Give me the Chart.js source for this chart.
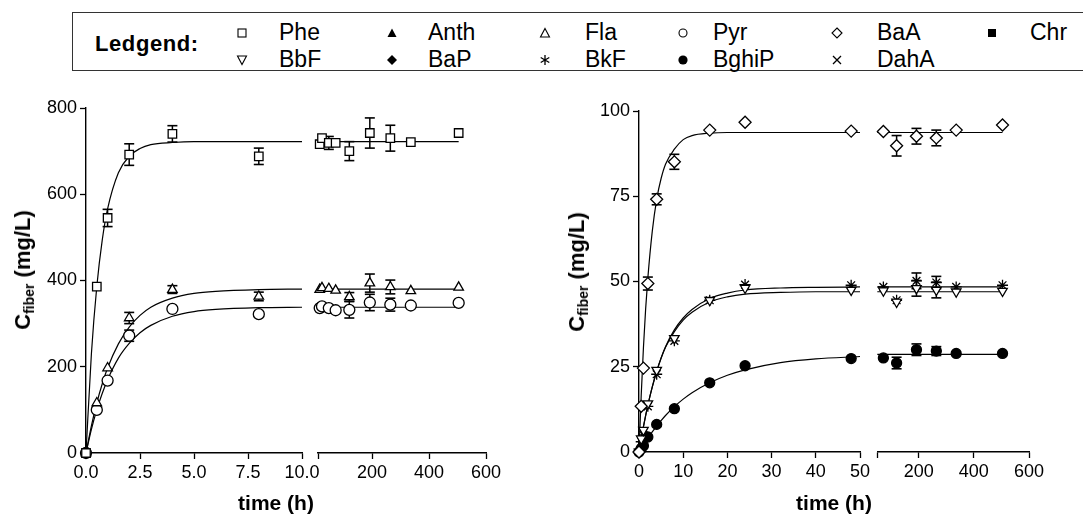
<!DOCTYPE html>
<html>
<head>
<meta charset="utf-8">
<script src="https://cdn.jsdelivr.net/npm/chart.js@4.4.1/dist/chart.umd.min.js"></script>
<style>
  body { margin: 0; width: 1083px; height: 515px; overflow: hidden; background: #fff; position: relative;
         font-family: "Liberation Sans", Arial, sans-serif; color: #000; }
  .box { position: absolute; }
  #legend { position: absolute; left: 72px; top: 12px; width: 1040px; height: 59px; border: 1.5px solid #333; box-sizing: border-box; }
  .lab { position: absolute; font-size: 23px; line-height: 26px; white-space: nowrap; }
  .sym { position: absolute; width: 12px; height: 12px; }
  .ytitle { position: absolute; font-weight: bold; font-size: 22px; line-height: 24px; white-space: nowrap;
            transform: translate(-50%, -50%) rotate(-90deg); }
  .ytitle sub { font-size: 14px; vertical-align: -4px; line-height: 0; }
  .xtitle { position: absolute; width: 200px; text-align: center; font-weight: bold; font-size: 21px; line-height: 24px; }
</style>
</head>
<body>

<div id="legend"></div>

<div class="box" style="left:310px;top:95px"><canvas id="c1b" width="200" height="420"></canvas></div>
<div class="box" style="left:0;top:95px"><canvas id="c1a" width="330" height="420"></canvas></div>
<div class="box" style="left:870px;top:95px"><canvas id="c2b" width="213" height="420"></canvas></div>
<div class="box" style="left:540px;top:95px"><canvas id="c2a" width="340" height="420"></canvas></div>

<div class="ytitle" style="left:23px;top:270px">C<sub>fiber</sub> (mg/L)</div>
<div class="ytitle" style="left:577px;top:272px">C<sub>fiber</sub> (mg/L)</div>
<div class="xtitle" style="left:176px;top:491px">time (h)</div>
<div class="xtitle" style="left:734px;top:491px">time (h)</div>

<script>
// ---- panel 1: Phe, Fla, Pyr ----
const t1a = [0, 0.5, 1, 2, 4, 8];
const t1b = [16, 24, 48, 72, 120, 192, 264, 336, 504];
const x1a_ticks = [0, 2.5, 5, 7.5, 10];
const x1b_ticks = [10, 200, 400, 600];
const y1_ticks = [0, 200, 400, 600, 800];

const phe_a = [0, 386, 545, 692, 740, 688];
const phe_a_err = [0, 0, 20, 25, 19, 19];
const phe_b = [716, 730, 719, 719, 700, 742, 730, 721, 742];
const phe_b_err = [0, 0, 15, 0, 22, 35, 30, 0, 0];

const fla_a = [0, 116, 197, 313, 379, 363];
const fla_a_err = [0, 0, 0, 13, 9, 10];
const fla_b = [379, 383, 381, 377, 362, 394, 385, 376, 384];
const fla_b_err = [0, 0, 0, 0, 10, 21, 16, 0, 0];

const pyr_a = [0, 100, 168, 272, 334, 322];
const pyr_a_err = [0, 0, 0, 13, 0, 0];
const pyr_b = [336, 340, 336, 331, 332, 349, 344, 342, 348];
const pyr_b_err = [0, 0, 0, 0, 19, 19, 15, 0, 0];

// fitted curves
const fit1a_t = [0, 0.25, 0.5, 0.75, 1, 1.5, 2, 2.5, 3, 4, 5, 6, 8, 10];
const phe_fit = [0, 230, 386, 493, 566, 650, 688, 706, 715, 720, 722, 722, 722, 722];
const fla_fit = [0, 63, 116, 160, 197, 253, 292, 319, 338, 359, 370, 375, 379, 380];
const pyr_fit = [0, 55, 100, 138, 170, 220, 254, 279, 296, 317, 328, 333, 337, 338];
const fit1b_t = [10, 504];
const phe_fit_b = [722, 722];
const fla_fit_b = [380, 380];
const pyr_fit_b = [338, 338];

// ---- panel 2: BaA, BbF, BkF, BghiP ----
const t2a = [0, 0.5, 1, 2, 4, 8, 16, 24, 48];
const t2b = [72, 120, 192, 264, 336, 504];
const x2a_ticks = [0, 10, 20, 30, 40, 50];
const x2b_ticks = [50, 200, 400, 600];
const y2_ticks = [0, 25, 50, 75, 100];

const baa_a = [0, 13.4, 24.6, 49.4, 74.1, 85.1, 94.4, 96.7, 94.1];
const baa_a_err = [0, 0, 0, 1.9, 1.6, 2.2, 0, 0, 0];
const baa_b = [94.0, 89.8, 92.6, 92.1, 94.4, 95.9];
const baa_b_err = [0, 3, 2.3, 2.3, 0, 0];

const bbf_a = [0, 3.9, 6.4, 14.2, 24.0, 33.3, 44.5, 48.1, 47.5];
const bbf_b = [47.3, 44.0, 48.0, 47.5, 47.0, 47.2];
const bbf_b_err = [0, 0, 2.3, 2.3, 0, 0];

const bkf_a = [0, 3, 5, 13.4, 22.8, 32.6, 44.5, 49.1, 48.9];
const bkf_b = [48.4, 44.5, 50.2, 49.7, 48.4, 48.9];
const bkf_b_err = [0, 0, 2.3, 1.8, 0, 0];

const bghip_a = [0, 1.0, 1.8, 4.4, 8.1, 12.7, 20.3, 25.3, 27.4];
const bghip_b = [27.6, 26.1, 30.0, 29.6, 28.9, 28.9];
const bghip_b_err = [0, 1.7, 1.7, 1.3, 0, 0];

const fit2a_t = [0, 0.5, 1, 1.5, 2, 3, 4, 5, 6, 8, 10, 12, 16, 20, 24, 32, 40, 50];
const baa_fit = [0, 16.6, 30.5, 41.9, 51.0, 64.7, 74.1, 80.2, 84.4, 88.8, 91.6, 92.8, 93.5, 93.7, 93.7, 93.7, 93.7, 93.7];
const bbf_fit = [0, 3.8, 7.4, 10.7, 13.7, 19.0, 23.6, 27.5, 30.7, 35.3, 38.7, 41.0, 44.0, 45.5, 46.3, 46.8, 47.0, 47.0];
const bkf_fit = [0, 3.9, 7.4, 10.7, 13.7, 19.1, 23.7, 27.6, 30.9, 35.8, 39.3, 41.8, 45.0, 46.6, 47.5, 48.1, 48.3, 48.4];
const bghip_fit = [0, 1.1, 2.1, 3.1, 4.1, 5.9, 7.6, 9.2, 10.7, 13.3, 15.5, 17.4, 20.3, 22.5, 24.1, 26.2, 27.3, 28.0];
const fit2b_t = [50, 504];
const baa_fit_b = [93.7, 93.7];
const bbf_fit_b = [47.0, 47.0];
const bkf_fit_b = [48.4, 48.4];
const bghip_fit_b = [28.6, 28.6];

// legend entries
const legend_names = ["Phe", "Anth", "Fla", "Pyr", "BaA", "Chr", "BbF", "BaP", "BkF", "BghiP", "DahA"];
const legend_syms  = ["sq", "triF", "tri", "circ", "dia", "sqF", "triD", "diaF", "star", "circF", "x"];

// ------------------------------------------------------------

Chart.defaults.font.family = '"Liberation Sans", Arial, sans-serif';
Chart.defaults.font.size = 18;
Chart.defaults.color = '#000';

const xy = (t, v) => t.map((x, i) => ({ x: x, y: v[i] }));

function marks(t, v, shape, fill, r, rot) {
  return { data: xy(t, v), showLine: false, pointStyle: shape, pointRotation: rot || 0, pointRadius: r,
           pointBorderColor: '#000', pointBackgroundColor: fill, pointBorderWidth: 1.3, order: 0, clip: false };
}
function errs(t, v, e) {
  const d = [];
  t.forEach((x, i) => { if (e[i] > 0) d.push({ x: x, y: v[i] - e[i] }, { x: x, y: v[i] + e[i] }, { x: x, y: null }); });
  return { data: d, showLine: true, spanGaps: false, borderColor: '#000', borderWidth: 1.5, pointStyle: 'line',
           pointRadius: 5, pointBorderWidth: 1.6, pointBorderColor: '#000', order: 1, clip: false };
}
function fit(t, v) {
  return { data: xy(t, v), showLine: true, borderColor: '#000', borderWidth: 1.2, pointRadius: 0,
           cubicInterpolationMode: 'monotone', order: 2, clip: false };
}

function xAxis(min, max, ticks, fmt, h) {
  return {
    type: 'linear', min: min, max: max,
    afterBuildTicks: s => { s.ticks = ticks.map(v => ({ value: v })); },
    afterFit: s => { s.height = h; s.paddingLeft = 0; s.paddingRight = 0; },
    ticks: { autoSkip: false, maxRotation: 0, padding: 3, callback: fmt },
    grid: { display: true, drawOnChartArea: false, drawTicks: true, tickLength: 6, tickColor: '#000', tickWidth: 1.3 },
    border: { display: true, color: '#000', width: 1.4 }
  };
}
function yAxis(min, max, ticks, w) {
  if (!w) return { display: false, min: min, max: max };
  return {
    min: min, max: max,
    afterBuildTicks: s => { s.ticks = ticks.map(v => ({ value: v })); },
    afterFit: s => { s.width = w; s.paddingTop = 0; s.paddingBottom = 0; },
    ticks: { autoSkip: false, padding: 3 },
    grid: { display: true, drawOnChartArea: false, drawTicks: true, tickLength: 6, tickColor: '#000', tickWidth: 1.3 },
    border: { display: true, color: '#000', width: 1.4 }
  };
}

function makeChart(id, datasets, x, y, padding) {
  new Chart(document.getElementById(id).getContext('2d'), {
    type: 'scatter',
    data: { datasets: datasets },
    options: {
      responsive: false, animation: false,
      layout: { padding: padding },
      plugins: { legend: { display: false }, tooltip: { enabled: false } },
      scales: { x: x, y: y }
    }
  });
}

const one = v => (v === 10 ? '' : v);
const fifty = v => (v === 50 ? '' : v);

// panel 1, 0-10 h
makeChart('c1a', [
  marks(t1a, phe_a, 'rect', '#fff', 6),
  marks(t1a, fla_a, 'triangle', '#fff', 5.5),
  marks(t1a, pyr_a, 'circle', '#fff', 5.5),
  errs(t1a, phe_a, phe_a_err), errs(t1a, fla_a, fla_a_err), errs(t1a, pyr_a, pyr_a_err),
  fit(fit1a_t, phe_fit), fit(fit1a_t, fla_fit), fit(fit1a_t, pyr_fit)
], xAxis(0, 10, x1a_ticks, v => v.toFixed(1), 62), yAxis(0, 800, y1_ticks, 86),
   { top: 13, right: 28, left: 0, bottom: 0 });

// panel 1, 10-600 h
makeChart('c1b', [
  marks(t1b, phe_b, 'rect', '#fff', 6),
  marks(t1b, fla_b, 'triangle', '#fff', 5.5),
  marks(t1b, pyr_b, 'circle', '#fff', 5.5),
  errs(t1b, phe_b, phe_b_err), errs(t1b, fla_b, fla_b_err), errs(t1b, pyr_b, pyr_b_err),
  fit(fit1b_t, phe_fit_b), fit(fit1b_t, fla_fit_b), fit(fit1b_t, pyr_fit_b)
], xAxis(10, 600, x1b_ticks, one, 62), yAxis(0, 800),
   { top: 13, right: 24, left: 8, bottom: 0 });

// panel 2, 0-50 h
makeChart('c2a', [
  marks(t2a, baa_a, 'rectRot', '#fff', 6),
  marks(t2a, bbf_a, 'triangle', '#fff', 5.5, 180),
  marks(t2a, bkf_a, 'star', '#fff', 5.5),
  marks(t2a, bghip_a, 'circle', '#000', 5),
  errs(t2a, baa_a, baa_a_err),
  fit(fit2a_t, baa_fit), fit(fit2a_t, bbf_fit), fit(fit2a_t, bkf_fit), fit(fit2a_t, bghip_fit)
], xAxis(0, 50, x2a_ticks, v => v, 63), yAxis(0, 100, y2_ticks, 99),
   { top: 16, right: 20, left: 0, bottom: 0 });

// panel 2, 50-600 h
makeChart('c2b', [
  marks(t2b, baa_b, 'rectRot', '#fff', 6),
  marks(t2b, bbf_b, 'triangle', '#fff', 5.5, 180),
  marks(t2b, bkf_b, 'star', '#fff', 5.5),
  marks(t2b, bghip_b, 'circle', '#000', 5),
  errs(t2b, baa_b, baa_b_err), errs(t2b, bbf_b, bbf_b_err), errs(t2b, bkf_b, bkf_b_err), errs(t2b, bghip_b, bghip_b_err),
  fit(fit2b_t, baa_fit_b), fit(fit2b_t, bbf_fit_b), fit(fit2b_t, bkf_fit_b), fit(fit2b_t, bghip_fit_b)
], xAxis(50, 600, x2b_ticks, fifty, 63), yAxis(0, 100),
   { top: 16, right: 54, left: 7, bottom: 0 });

// ---- legend box ----
const svgSym = {
  sq:    '<rect x="2" y="2" width="8" height="8" fill="#fff" stroke="#000" stroke-width="1.1"/>',
  sqF:   '<rect x="2" y="2" width="8" height="8" fill="#000"/>',
  tri:   '<polygon points="6,1.5 10.5,10 1.5,10" fill="#fff" stroke="#000" stroke-width="1.1"/>',
  triF:  '<polygon points="6,1.5 10.5,10 1.5,10" fill="#000"/>',
  triD:  '<polygon points="1.5,2 10.5,2 6,10.5" fill="#fff" stroke="#000" stroke-width="1.1"/>',
  circ:  '<circle cx="6" cy="6" r="4" fill="#fff" stroke="#000" stroke-width="1.1"/>',
  circF: '<circle cx="6" cy="6" r="4.6" fill="#000"/>',
  dia:   '<polygon points="6,1 11,6 6,11 1,6" fill="#fff" stroke="#000" stroke-width="1.1"/>',
  diaF:  '<polygon points="6,1 11,6 6,11 1,6" fill="#000"/>',
  star:  '<path d="M6,1V11M1.7,3.5L10.3,8.5M1.7,8.5L10.3,3.5" stroke="#000" stroke-width="1.3"/>',
  x:     '<path d="M2,2L10,10M10,2L2,10" stroke="#000" stroke-width="1.3"/>'
};
const symX = [242, 392, 545, 683, 837, 992];
const txtX = [279, 428, 585, 713, 877, 1030];
const rowY = [31, 58];
const body = document.body;
const lg = document.createElement('div');
lg.className = 'lab';
lg.style.cssText = 'left:95px;top:31px;font-weight:bold;font-size:22px;letter-spacing:0.6px';
lg.textContent = 'Ledgend:';
body.appendChild(lg);
legend_names.forEach((name, i) => {
  const col = i % 6, row = Math.floor(i / 6);
  const s = document.createElement('div');
  s.className = 'sym';
  s.style.left = (symX[col] - 6) + 'px';
  s.style.top = (rowY[row] - 6) + 'px';
  s.innerHTML = '<svg width="12" height="12" viewBox="0 0 12 12">' + svgSym[legend_syms[i]] + '</svg>';
  body.appendChild(s);
  const t = document.createElement('div');
  t.className = 'lab';
  t.style.left = txtX[col] + 'px';
  t.style.top = (rowY[row] - 12) + 'px';
  t.textContent = name;
  body.appendChild(t);
});
</script>
</body>
</html>
